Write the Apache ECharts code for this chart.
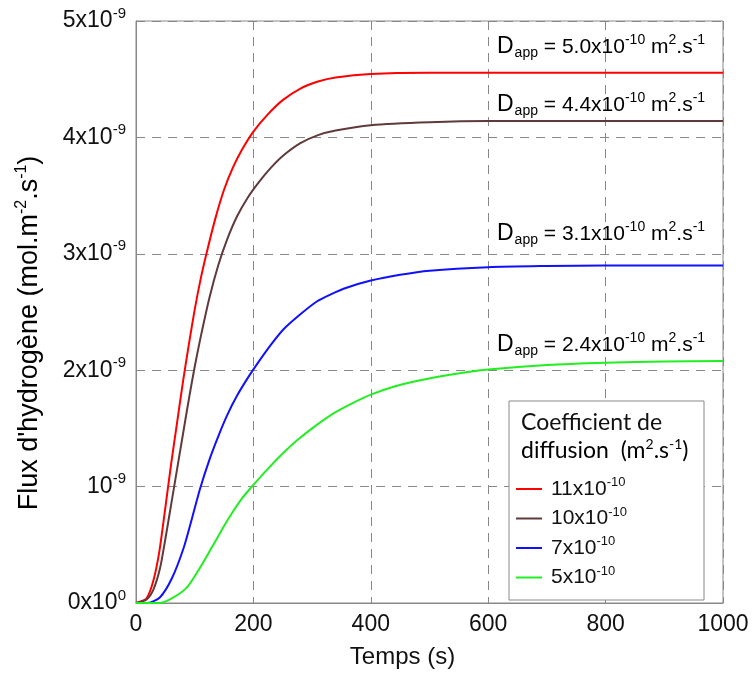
<!DOCTYPE html>
<html>
<head>
<meta charset="utf-8">
<script src="https://cdn.jsdelivr.net/npm/echarts@6/dist/echarts.min.js"></script>
<style>html,body{margin:0;padding:0;background:#fff}#c{width:752px;height:674px}</style>
</head>
<body>
<div id="c"></div>
<script>
// Data (flux in units of 1e-9 mol.m-2.s-1, time in s)
var redT   = [0,18,30,40,50,60,70,80,90,100,110,120,135,150,165,180,200,225,250,280,310,340,400,500,1000];
var redV   = [0,0.04,0.2,0.45,0.82,1.2,1.55,1.9,2.22,2.52,2.78,3.0,3.3,3.55,3.74,3.89,4.05,4.2,4.32,4.42,4.48,4.515,4.545,4.555,4.555];
var brownT = [0,18,30,41,50,60,70,80,90,100,110,125,140,155,172,190,210,230,250,280,310,340,400,500,600,1000];
var brownV = [0,0.03,0.12,0.3,0.55,0.85,1.15,1.45,1.75,2.03,2.28,2.62,2.9,3.12,3.32,3.48,3.62,3.74,3.84,3.95,4.02,4.06,4.105,4.13,4.14,4.14];
var blueT  = [0,20,41,61,81,95,109,125,140,155,172,190,210,230,251,280,308,331,360,400,450,500,600,700,800,1000];
var blueV  = [0,0,0.05,0.21,0.47,0.72,0.98,1.23,1.43,1.61,1.78,1.93,2.08,2.22,2.35,2.48,2.59,2.65,2.71,2.77,2.82,2.855,2.885,2.895,2.9,2.9];
var greenT = [0,40,61,86,105,126,143,160,180,200,225,250,275,308,340,370,400,440,480,540,600,700,800,900,1000];
var greenV = [0,0,0.04,0.13,0.27,0.45,0.6,0.745,0.895,1.015,1.155,1.285,1.4,1.53,1.64,1.72,1.79,1.86,1.91,1.965,2.005,2.045,2.065,2.075,2.08];

var seriesNames = ['11x10-10','10x10-10','7x10-10','5x10-10'];
var legendBase  = ['11x10','10x10','7x10','5x10'];
var legendExp   = ['-10','-10','-10','-10'];
var seriesColors = ['#ff0000','#603a3a','#1010ff','#22ee22'];

var xTicks = [0,200,400,600,800,1000];
var yTickBase = ['0x10','10','2x10','3x10','4x10','5x10'];
var yTickExp  = ['0','-9','-9','-9','-9','-9'];

var annotValues = ['5.0','4.4','3.1','2.4'];
var annotY = [45,103,232,343];

function pairs(t, v){ return t.map(function(x,i){ return [x, v[i]]; }); }
var allT = [redT, brownT, blueT, greenT];
var allV = [redV, brownV, blueV, greenV];

var chart = echarts.init(document.getElementById('c'), null, {renderer:'canvas'});
var FONT = 'Liberation Sans, Arial, sans-serif';
var LFONT = 'Lato, Open Sans, sans-serif';

var series = seriesNames.map(function(n, i){
  return {
    name: n, type: 'line', data: pairs(allT[i], allV[i]),
    showSymbol: false, smooth: 0.25, z: 2,
    lineStyle: {color: seriesColors[i], width: 2},
    itemStyle: {color: seriesColors[i]}
  };
});

var annotGraphics = annotValues.map(function(v, i){
  return {
    type: 'text', left: 497, top: annotY[i] - 12, z: 10,
    style: {
      text: '{D|D}{sub|app}{t| = ' + v + 'x10}{sup|-10}{t| m}{sup|2}{t|.s}{sup|-1}',
      rich: {
        D: {fontSize: 23, fontFamily: FONT, color: '#111'},
        t: {fontSize: 21, fontFamily: FONT, color: '#111'},
        sub: {fontSize: 14, fontFamily: FONT, color: '#111', padding: [13,0,0,1]},
        sup: {fontSize: 14, fontFamily: FONT, color: '#111', padding: [0,0,14,0]}
      }
    }
  };
});

var option = {
  animation: false,
  backgroundColor: '#fff',
  grid: {left: 136, top: 21, right: 29, bottom: 70, show: true, borderColor: '#888', borderWidth: 1, backgroundColor: 'transparent'},
  xAxis: {
    type: 'value', min: 0, max: 1000, interval: 200,
    name: 'Temps (s)', nameLocation: 'middle', nameGap: 42,
    nameTextStyle: {fontSize: 24, fontFamily: FONT, color: '#111', padding: [0,54,0,0]},
    axisLine: {show: true, lineStyle: {color: '#888', width: 1}},
    axisTick: {show: true, inside: true, length: 5, lineStyle: {color: '#888'}},
    axisLabel: {fontSize: 23, fontFamily: FONT, color: '#111', margin: 10,
      formatter: function(v){ return xTicks.indexOf(v) >= 0 ? String(v) : ''; }},
    splitLine: {show: true, lineStyle: {color: '#888', type: [9,7], width: 1}}
  },
  yAxis: {
    type: 'value', min: 0, max: 5, interval: 1,
    axisLine: {show: true, lineStyle: {color: '#888', width: 1}},
    axisTick: {show: true, inside: true, length: 5, lineStyle: {color: '#888'}},
    axisLabel: {
      margin: 10,
      formatter: function(v){ var i = Math.round(v); return '{b|' + yTickBase[i] + '}{s|' + yTickExp[i] + '}'; },
      rich: {
        b: {fontSize: 23, fontFamily: FONT, color: '#111'},
        s: {fontSize: 15, fontFamily: FONT, color: '#111', padding: [0,0,15,0]}
      }
    },
    splitLine: {show: true, lineStyle: {color: '#888', type: [9,7], width: 1}}
  },
  legend: {
    data: seriesNames, orient: 'vertical', left: 516, top: 476, z: 20,
    icon: 'rect', itemWidth: 26, itemHeight: 2, itemGap: 6, padding: 0,
    formatter: function(n){ var i = seriesNames.indexOf(n); return '{b|' + legendBase[i] + '}{s|' + legendExp[i] + '}'; },
    textStyle: {
      rich: {
        b: {fontSize: 21, fontFamily: FONT, color: '#111', padding: [0,0,0,4], lineHeight: 22},
        s: {fontSize: 13, fontFamily: FONT, color: '#111', padding: [0,0,13,0]}
      }
    }
  },
  graphic: [
    {type: 'rect', shape: {x: 509, y: 401, width: 195, height: 199}, z: 5,
     style: {fill: '#fff', stroke: '#888', lineWidth: 1}},
    {type: 'text', left: 521, top: 411, z: 10,
     style: {text: 'Coefficient de', fontSize: 23, fontFamily: LFONT, fill: '#111'}},
    {type: 'text', left: 521, top: 437, z: 10,
     style: {text: '{t|diffusion  (m}{sup|2}{t|.s}{sup|-1}{t|)}',
       rich: {t: {fontSize: 23, fontFamily: LFONT, color: '#111'},
              sup: {fontSize: 14, fontFamily: LFONT, color: '#111', padding: [0,0,14,0]}}}},
    {type: 'text', x: 30, y: 333, rotation: Math.PI/2, z: 10,
     style: {text: '{t|Flux d\'hydrogène (mol.m}{sup|-2}{t|.s}{sup|-1}{t|)}', align: 'center', verticalAlign: 'middle',
       rich: {t: {fontSize: 27, fontFamily: FONT, color: '#111'},
              sup: {fontSize: 16, fontFamily: FONT, color: '#111', padding: [0,0,16,0]}}}}
  ].concat(annotGraphics),
  series: series
};
chart.setOption(option);
</script>
</body>
</html>
